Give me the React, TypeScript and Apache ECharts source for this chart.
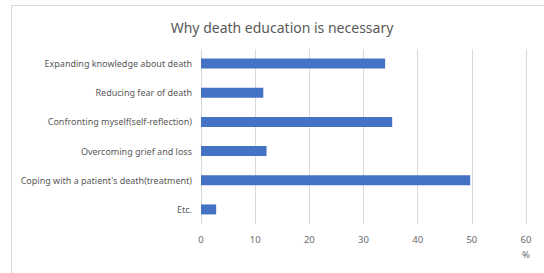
import React, { useEffect, useRef } from "react";
import * as echarts from "echarts";

const categories = [
  "Expanding knowledge about death",
  "Reducing fear of death",
  "Confronting myself(self-reflection)",
  "Overcoming grief and loss",
  "Coping with a patient's death(treatment)",
  "Etc.",
];
const values = [34, 11.5, 35.3, 12.1, 49.7, 2.8];
const xTicks = [0, 10, 20, 30, 40, 50, 60];

const FONT = "'Noto Sans', sans-serif";

export default function App() {
  const ref = useRef<HTMLDivElement>(null);
  useEffect(() => {
    if (!ref.current) return;
    const chart = echarts.init(ref.current, undefined, { renderer: "svg" });
    chart.setOption({
      animation: false,
      backgroundColor: "#ffffff",
      title: {
        text: "Why death education is necessary",
        left: 277,
        textAlign: "center",
        top: 15,
        textStyle: { fontFamily: FONT, fontSize: 14, fontWeight: "normal", color: "#595959" },
      },
      grid: { left: 201, right: 18, top: 49, bottom: 49, containLabel: false },
      xAxis: {
        type: "value",
        min: xTicks[0],
        max: xTicks[xTicks.length - 1],
        interval: 10,
        axisLine: { show: false },
        axisTick: { show: false },
        splitLine: { show: true, lineStyle: { color: "#d9d9d9", width: 1 } },
        axisLabel: { color: "#6a6a6a", fontSize: 9.5, fontFamily: FONT, margin: 10 },
      },
      yAxis: {
        type: "category",
        data: categories,
        inverse: true,
        axisLine: { show: false },
        axisTick: { show: false },
        axisLabel: { color: "#595959", fontSize: 9, fontFamily: FONT, margin: 9 },
      },
      series: [
        {
          type: "bar",
          data: values,
          barWidth: 10,
          itemStyle: { color: "#4472C4" },
        },
      ],
      graphic: [
        {
          type: "rect",
          shape: { x: 11.5, y: 5.5, width: 700, height: 400 },
          style: { fill: "none", stroke: "#d9d9d9", lineWidth: 1 },
          silent: true,
        },
        {
          type: "text",
          x: 526,
          y: 254,
          style: { text: "%", fill: "#6a6a6a", fontSize: 9.5, fontFamily: FONT, align: "center", verticalAlign: "middle" },
        },
      ],
    });
    return () => chart.dispose();
  }, []);
  return <div ref={ref} style={{ position: "fixed", left: 0, top: 0, width: 544, height: 273 }} />;
}
